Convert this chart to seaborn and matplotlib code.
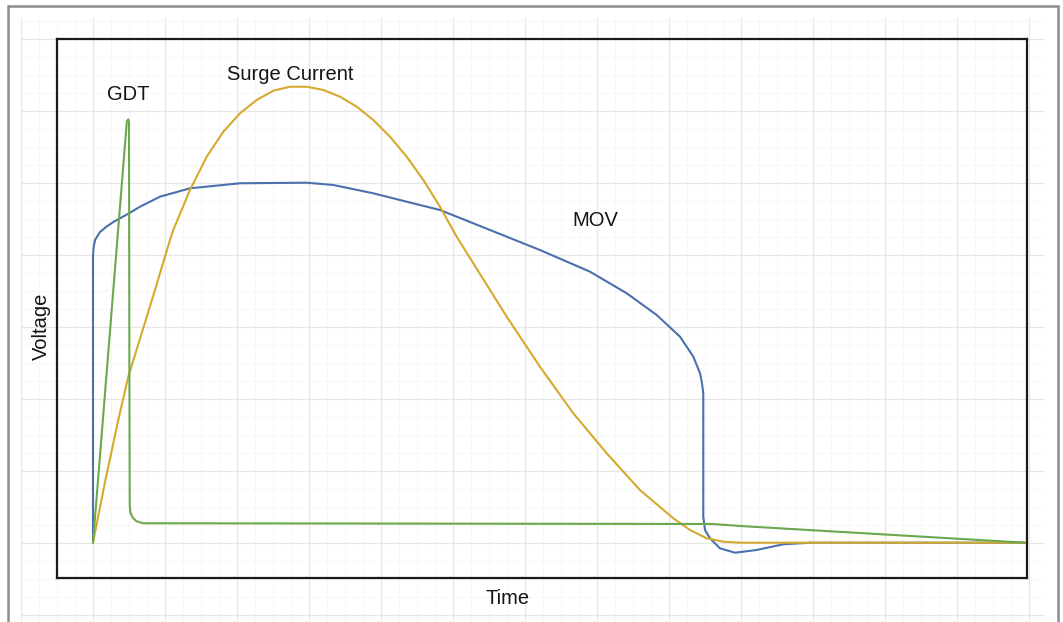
import numpy as np
import seaborn as sns
import matplotlib.pyplot as plt
from matplotlib.patches import Rectangle
from matplotlib.ticker import MultipleLocator

# curve data (time units, voltage units)
mov_t = [0, 0, 0.007, 0.028, 0.097, 0.181, 0.282, 0.514, 0.653, 0.931, 1.347, 2.042,
         2.968, 3.338, 3.893, 4.357, 4.819, 5.514, 6.208, 6.903, 7.413, 7.829, 8.153,
         8.338, 8.431, 8.458, 8.476, 8.476, 8.476, 8.5, 8.569, 8.708, 8.917, 9.218, 9.588,
         9.958, 12.944]
mov_v = [0, 3.972, 4.093, 4.204, 4.315, 4.385, 4.454, 4.583, 4.667, 4.806, 4.922, 4.992,
         5.0, 4.968, 4.853, 4.736, 4.621, 4.343, 4.065, 3.764, 3.464, 3.163, 2.861,
         2.583, 2.353, 2.218, 2.075, 1.913, 0.361, 0.176, 0.061, -0.078, -0.139, -0.101,
         -0.022, 0, 0]

surge_t = [0, 0.167, 0.351, 0.49, 0.676, 0.861, 1.069, 1.115, 1.347, 1.579, 1.81, 2.042,
           2.274, 2.504, 2.736, 2.968, 3.199, 3.431, 3.663, 3.893, 4.125, 4.357, 4.588,
           4.819, 5.051, 5.282, 5.746, 6.208, 6.671, 7.135, 7.597, 8.06, 8.292, 8.524,
           8.754, 8.986, 12.944]
surge_v = [0, 0.843, 1.704, 2.306, 2.908, 3.51, 4.204, 4.343, 4.899, 5.361, 5.708, 5.964,
           6.149, 6.278, 6.333, 6.333, 6.288, 6.194, 6.056, 5.871, 5.639, 5.361, 5.038,
           4.667, 4.25, 3.881, 3.139, 2.444, 1.797, 1.242, 0.731, 0.339, 0.176, 0.061,
           0.014, 0, 0]

gdt_t = [0, 0.47, 0.49, 0.5, 0.505, 0.51, 0.52, 0.55, 0.6, 0.69, 8.6, 8.99, 12.944]
gdt_v = [0, 5.85, 5.88, 5.84, 2.54, 0.52, 0.42, 0.35, 0.3, 0.27, 0.26, 0.232, 0]

curve_colors = ["#4a70ad", "#d5aa2c", "#6aa84f"]

W, H = 1063, 622
fig = plt.figure(figsize=(W / 100, H / 100), dpi=100)
sns.set_style("white")
plt.rcParams["font.family"] = ["Liberation Sans", "DejaVu Sans"]

def px(x0, y0, x1, y1):
    # pixel box -> figure fraction [left, bottom, width, height]
    return [x0 / W, 1 - y1 / H, (x1 - x0) / W, (y1 - y0) / H]

def tx(p):
    return (p - 93) / 72.0

def ty(p):
    return (542.7 - p) / 72.0

# graph paper behind the chart
bg = fig.add_axes(px(21, 18, 1045, 622))
bg.set_xlim(tx(21), tx(1045))
bg.set_ylim(ty(622), ty(18))
bg.xaxis.set_major_locator(MultipleLocator(1))
bg.yaxis.set_major_locator(MultipleLocator(1))
bg.xaxis.set_minor_locator(MultipleLocator(0.25))
bg.yaxis.set_minor_locator(MultipleLocator(0.25))
bg.grid(which="major", color="#e6e6e6", lw=0.9)
bg.grid(which="minor", color="#f6f6f6", lw=0.7)
bg.tick_params(which="both", length=0, labelbottom=False, labelleft=False)
for s in bg.spines.values():
    s.set_visible(False)

ax = fig.add_axes(px(57, 39, 1027, 578))
ax.set_facecolor("none")
for t, v, c in zip([mov_t, surge_t, gdt_t], [mov_v, surge_v, gdt_v], curve_colors):
    sns.lineplot(x=t, y=v, sort=False, estimator=None, color=c, lw=1.5, ax=ax)
ax.set_xlim(tx(57), tx(1027))
ax.set_ylim(ty(578), ty(39))
ax.set_xticks([])
ax.set_yticks([])
for s in ax.spines.values():
    s.set_color("#1a1a1a")
    s.set_linewidth(1.6)

fs = 14.5
ink = "#141414"
ax.text(tx(128), ty(94), "GDT", fontsize=fs, color=ink, ha="center", va="center")
ax.text(tx(290), ty(75), "Surge Current", fontsize=fs, color=ink, ha="center", va="center")
ax.text(tx(595), ty(220), "MOV", fontsize=fs, color=ink, ha="center", va="center")
fig.text(41.7 / W, 1 - 326.7 / H, "Voltage", fontsize=fs, color=ink, rotation=90,
         ha="center", va="center")
fig.text(508 / W, 1 - 598 / H, "Time", fontsize=fs, color=ink, ha="center", va="center")

# grey frame round the whole picture
fig.add_artist(Rectangle((8 / W, -0.05), 1050 / W, 1.05 - 6 / H, transform=fig.transFigure,
                         fill=False, edgecolor="#8c8c8c", lw=1.8))

fig.savefig("out.png", dpi=100)
